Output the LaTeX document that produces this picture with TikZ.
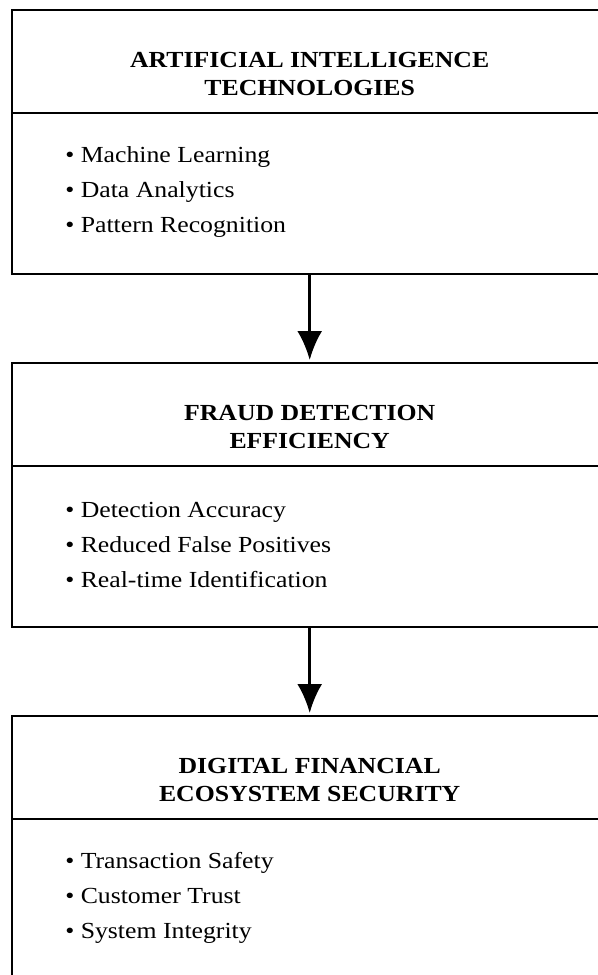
\documentclass[tikz,border=0pt]{standalone}
\usepackage{fontspec}
\setmainfont{Liberation Serif}[FakeStretch=1.12]
\usepackage{tikz}
\usetikzlibrary{positioning,arrows.meta}
\tikzset{
  headbox/.style={rectangle, draw, line width=1.1pt, minimum width=298pt, minimum height=51.5pt, inner sep=0pt, outer sep=0pt},
  bodybox/.style={rectangle, draw, line width=1.1pt, minimum width=298pt, minimum height=80.5pt, inner sep=0pt, outer sep=0pt},
  title/.style={align=center, inner sep=0pt, font=\fontsize{11.5pt}{14.4pt}\selectfont\bfseries},
  items/.style={align=left, inner sep=0pt, anchor=west, font=\fontsize{11.5pt}{17.6pt}\selectfont},
  flow/.style={-{Latex[length=14.5pt, width=12.5pt]}, line width=1.5pt, shorten >=1.5pt},
}

\begin{document}
\begin{tikzpicture}
  \clip (0,0) rectangle (299pt,-487.5pt);

  % AI technologies
  \node[headbox, anchor=north] (aiHead) at (154.85pt,-5pt) {};
  \node[bodybox] (aiBody) [below=0pt of aiHead] {};
  \node[title] (aiTitle) at ([yshift=-6.25pt]aiHead.center) {ARTIFICIAL INTELLIGENCE\\TECHNOLOGIES};
  \node[items] (aiList) at ([xshift=26.6pt, yshift=0.8pt]aiBody.west)
    {\textbullet{} Machine Learning\\\textbullet{} Data Analytics\\\textbullet{} Pattern Recognition};

  % fraud detection
  \node[headbox] (fdHead) [below=44.5pt of aiBody] {};
  \node[bodybox] (fdBody) [below=0pt of fdHead] {};
  \node[title] (fdTitle) at ([yshift=-6.25pt]fdHead.center) {FRAUD DETECTION\\EFFICIENCY};
  \node[items] (fdList) at ([xshift=26.6pt, yshift=0.8pt]fdBody.west)
    {\textbullet{} Detection Accuracy\\\textbullet{} Reduced False Positives\\\textbullet{} Real-time Identification};

  % ecosystem security
  \node[headbox] (ecHead) [below=44.5pt of fdBody] {};
  \node[bodybox] (ecBody) [below=0pt of ecHead] {};
  \node[title] (ecTitle) at ([yshift=-6.25pt]ecHead.center) {DIGITAL FINANCIAL\\ECOSYSTEM SECURITY};
  \node[items] (ecList) at ([xshift=26.6pt, yshift=0.8pt]ecBody.west)
    {\textbullet{} Transaction Safety\\\textbullet{} Customer Trust\\\textbullet{} System Integrity};

  \draw[flow] (aiBody.south) -- (fdHead.north);
  \draw[flow] (fdBody.south) -- (ecHead.north);

\end{tikzpicture}
\end{document}
